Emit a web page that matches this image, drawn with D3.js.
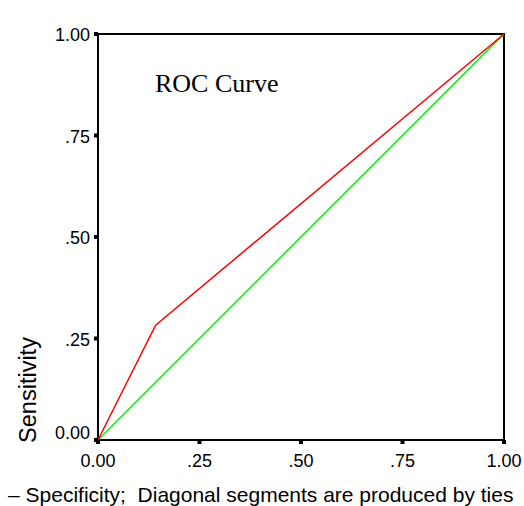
<!DOCTYPE html>
<html>
<head>
<meta charset="utf-8">
<script src="https://cdn.jsdelivr.net/npm/d3@7"></script>
<style>
  body { margin: 0; background: #fff; }
  svg text { font-family: "Liberation Sans", Arial, sans-serif; fill: #000; white-space: pre; }
</style>
</head>
<body>
<svg id="chart" width="524" height="506"></svg>
<script>
// ROC data
var rocX = [0, 0.142, 1];
var rocY = [0, 0.283, 1];
var refX = [0, 1];
var refY = [0, 1];
var tickValues = [0, 0.25, 0.5, 0.75, 1];
var tickLabels = ["0.00", ".25", ".50", ".75", "1.00"];

var Config = {
  Left: 98,
  Right: 504,
  Top: 34,
  Bottom: 440,
  TickSize: 4,
  TickFont: 18
};

var svg = d3.select("#chart");

var x = d3.scaleLinear().domain([0, 1]).range([Config.Left, Config.Right]);
var y = d3.scaleLinear().domain([0, 1]).range([Config.Bottom, Config.Top]);

// frame
svg.append("rect")
  .attr("x", Config.Left)
  .attr("y", Config.Top)
  .attr("width", Config.Right - Config.Left)
  .attr("height", Config.Bottom - Config.Top)
  .attr("fill", "none")
  .attr("stroke", "#000")
  .attr("stroke-width", 2);

var line = d3.line().x(function (d) { return x(d[0]); }).y(function (d) { return y(d[1]); });

// reference diagonal
svg.append("path")
  .datum(d3.zip(refX, refY))
  .attr("d", line)
  .attr("fill", "none")
  .attr("stroke", "#00ee00")
  .attr("stroke-width", 1.5);

// roc curve
svg.append("path")
  .datum(d3.zip(rocX, rocY))
  .attr("d", line)
  .attr("fill", "none")
  .attr("stroke", "#ff0000")
  .attr("stroke-width", 1.5);

// tick squares
svg.selectAll(".ytick")
  .data(tickValues)
  .enter()
  .append("rect")
  .attr("x", Config.Left - Config.TickSize)
  .attr("y", function (d) { return y(d) - 2; })
  .attr("width", Config.TickSize)
  .attr("height", 4)
  .attr("fill", "#000");

svg.selectAll(".xtick")
  .data(tickValues)
  .enter()
  .append("rect")
  .attr("x", function (d) { return x(d) - 2; })
  .attr("y", Config.Bottom)
  .attr("width", 4)
  .attr("height", Config.TickSize)
  .attr("fill", "#000");

// tick labels
svg.selectAll(".ylab")
  .data(tickValues)
  .enter()
  .append("text")
  .attr("x", Config.Left - 8)
  .attr("y", function (d) { return d === 0 ? y(d) - 1 : y(d) + 7; })
  .attr("text-anchor", "end")
  .attr("font-size", Config.TickFont)
  .text(function (d, i) { return tickLabels[i]; });

svg.selectAll(".xlab")
  .data(tickValues)
  .enter()
  .append("text")
  .attr("x", function (d) { return x(d); })
  .attr("y", Config.Bottom + 27)
  .attr("text-anchor", "middle")
  .attr("font-size", Config.TickFont)
  .text(function (d, i) { return tickLabels[i]; });

// title inside plot
svg.append("text")
  .attr("x", 155)
  .attr("y", 92)
  .attr("font-size", 26)
  .style("font-family", "'Liberation Serif', 'Times New Roman', serif")
  .text("ROC Curve");

// axis titles
svg.append("text")
  .attr("transform", "translate(36,390) rotate(-90)")
  .attr("text-anchor", "middle")
  .attr("font-size", 23.5)
  .text("Sensitivity");

svg.append("text")
  .attr("x", 8)
  .attr("y", 502)
  .attr("font-size", 21)
  .text("\u2013 Specificity;  Diagonal segments are produced by ties");
</script>
</body>
</html>
